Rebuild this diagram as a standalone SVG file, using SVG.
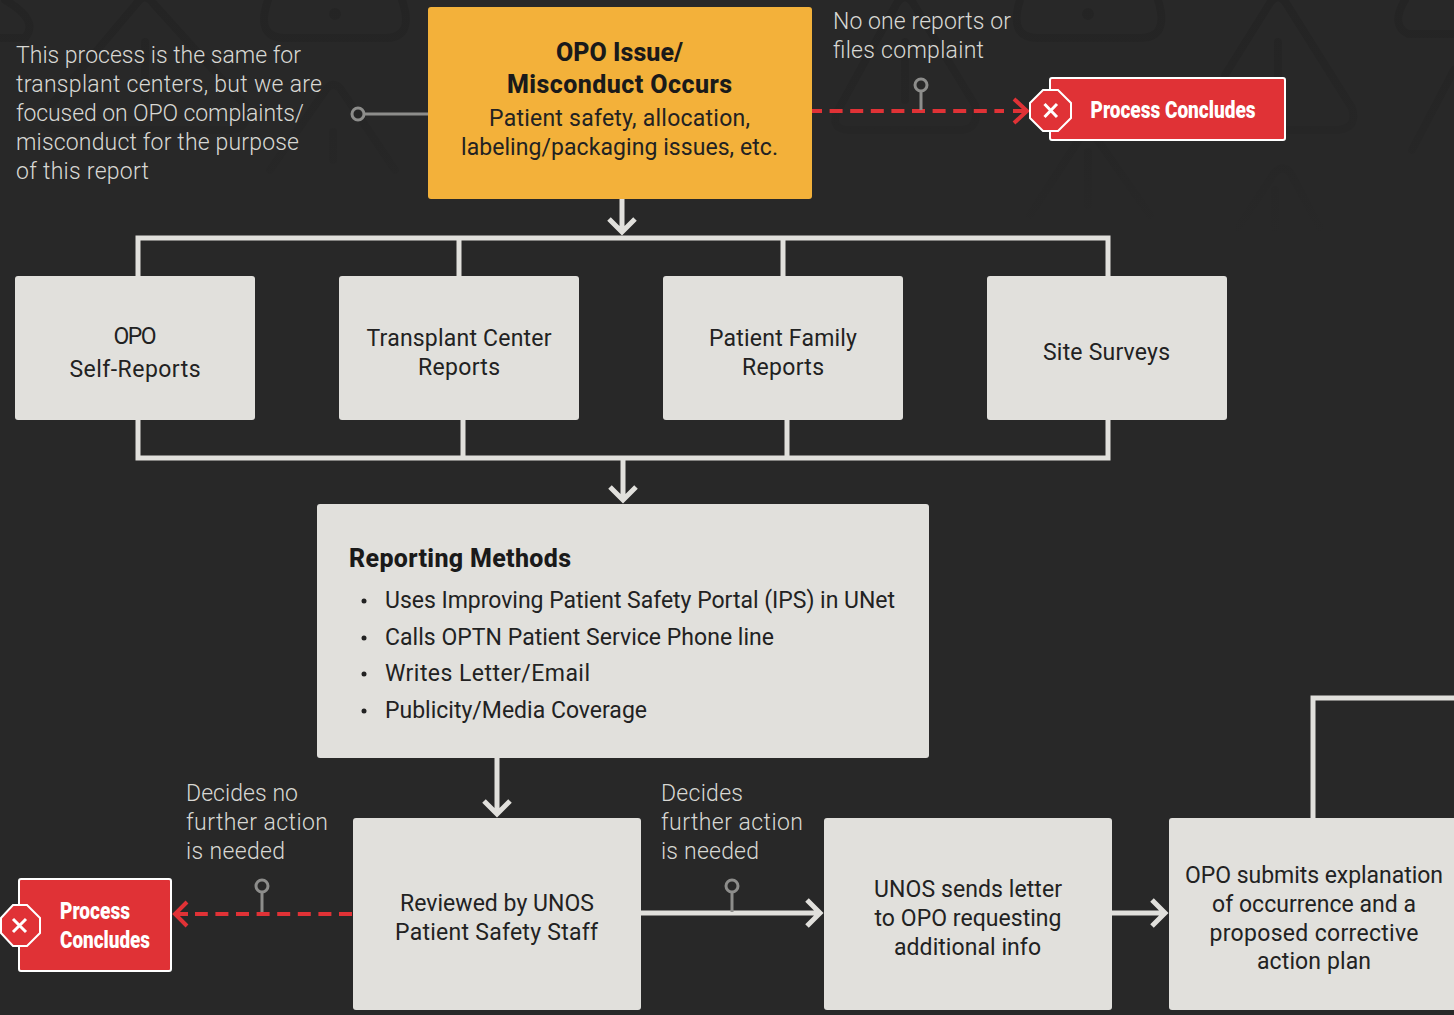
<svg xmlns="http://www.w3.org/2000/svg" width="1454" height="1015" viewBox="0 0 1454 1015">
<defs>
<linearGradient id="fade" gradientUnits="userSpaceOnUse" x1="0" y1="0" x2="0" y2="240"><stop offset="0" stop-color="#242424"/><stop offset=".55" stop-color="#262626"/><stop offset="1" stop-color="#282828"/></linearGradient>
<style>
text{font-family:"Roboto","Liberation Sans",sans-serif}
.note{font-size:23px;font-weight:300;fill:#d8d8d4}
.box{fill:#e1e0dc}
.lbl{font-size:23px;fill:#222;text-anchor:middle}
.ttl{font-size:25px;font-weight:800;fill:#1a1a1a}
.li{font-size:23px;fill:#222}
.wire{fill:none;stroke:#e1e0dc;stroke-width:5}
.dash{fill:none;stroke:#e03236;stroke-width:4;stroke-dasharray:13 7.6}
.red{fill:none;stroke:#e03236;stroke-width:4}
.pin{fill:none;stroke:#8d8d8b;stroke-width:3}
.rb{fill:#e03236;stroke:#fff;stroke-width:2}
.rt{font-size:23px;font-weight:900;fill:#fff;text-anchor:middle}
.wm{fill:none;stroke:url(#fade);stroke-width:8;stroke-linejoin:round;stroke-linecap:round}
</style>
</defs>
<rect width="1454" height="1015" fill="#282828"/>
<g id="watermark" class="wm">
<path d="M1225 75L1270 3Q1278 -8 1286 3L1352 108Q1358 128 1338 130H1170"/>
<path d="M1278 42V100"/>
<path d="M837 112L897 3Q905 -8 913 3L975 105Q980 130 960 130H850Q830 130 837 112Z"/>
<path d="M905 42V100"/>
<path d="M45 112L137 3Q145 -8 153 3L245 105Q250 130 230 130H60Q40 130 45 112Z"/>
<path d="M145 42V100"/>
<path d="M268 0Q255 38 285 38H385Q415 38 402 0"/>
<path d="M1020 0Q1008 38 1038 38H1140Q1170 38 1158 0"/>
<circle cx="335" cy="14" r="3" stroke-width="6"/>
<circle cx="1088" cy="14" r="3" stroke-width="6"/>
<path d="M5 0Q40 20 25 38H0"/>
<path d="M1405 0Q1390 25 1408 34H1454"/>
<path d="M1454 70L1412 150"/>
<path d="M1030 215L1082 135Q1088 128 1094 135L1150 215"/>
<path d="M1088 152V205"/>
<path d="M1238 228L1275 172Q1283 165 1290 172L1320 228"/>
<path d="M1275 190V228"/>
<path d="M270 170L327 88Q333 82 340 88L395 170"/>
<path d="M333 132V160"/>
</g>
<g id="connectors">
<path class="wire" d="M138 276V238H1108V276M459 238V276M783 238V276"/>
<path class="wire" d="M138 420V458H1108V420M463 420V458M787 420V458"/>
<path class="wire" d="M622 199V233M609 219L622 232L635 219"/>
<path class="wire" d="M623 460V501M610 487L623 500L636 487"/>
<path class="wire" d="M497 758V815M484 801L497 814L510 801"/>
<path class="wire" d="M641 913H820M807 900L820 913L807 926"/>
<path class="wire" d="M1112 913H1165M1152 900L1165 913L1152 926"/>
<path class="wire" d="M1313 818V698H1454"/>
<path class="dash" stroke-dashoffset="3" d="M812 111H1004"/>
<path class="red" d="M1014 99L1027 111L1014 123M1013 111H1027"/>
<path class="dash" d="M352 914H195"/>
<path class="red" d="M187 902L175 914L187 926M175 914H188"/>
<g id="pins">
<circle class="pin" cx="358" cy="114" r="6"/><path class="pin" d="M364 114H428"/>
<circle class="pin" cx="921" cy="85" r="6"/><path class="pin" d="M921 91V110"/>
<circle class="pin" cx="262" cy="886" r="6"/><path class="pin" d="M262 892V912"/>
<circle class="pin" cx="732" cy="886" r="6"/><path class="pin" d="M732 892V912"/>
</g>
</g>
<g id="opo-issue">
<rect x="428" y="7" width="384" height="192" rx="3" fill="#f3b13a"/>
<text class="ttl" x="619.500" y="61" text-anchor="middle" textLength="127">OPO Issue/</text>
<text class="ttl" x="619.500" y="93" text-anchor="middle" textLength="225">Misconduct Occurs</text>
<text x="619.500" y="126" class="lbl" textLength="261">Patient safety, allocation,</text>
<text x="619.500" y="155" class="lbl" textLength="317">labeling/packaging issues, etc.</text>
</g>
<g id="note-same"><text class="note" x="16" y="63" textLength="285">This process is the same for</text><text class="note" x="16" y="92" textLength="306">transplant centers, but we are</text><text class="note" x="16" y="121" textLength="288">focused on OPO complaints/</text><text class="note" x="16" y="150" textLength="283">misconduct for the purpose</text><text class="note" x="16" y="179" textLength="133">of this report</text></g>
<g id="note-noone"><text class="note" x="833" y="29" textLength="178">No one reports or</text><text class="note" x="833" y="58" textLength="151">files complaint</text></g>
<g id="concludes-top">
<rect class="rb" x="1050" y="78" width="235" height="62" rx="2"/>
<path d="M1043 90H1058L1071 103V118L1058 131H1043L1030 118V103Z" fill="#e03236" stroke="#fff" stroke-width="2"/>
<path d="M1044.500 104L1057 117M1057 104L1044.500 117" stroke="#fff" stroke-width="3" fill="none"/>
<text class="rt" x="1173" y="118" textLength="165" lengthAdjust="spacingAndGlyphs">Process Concludes</text>
</g>
<g id="self-reports"><rect class="box" x="15" y="276" width="240" height="144" rx="3"/><text class="lbl" x="135" y="344" textLength="43">OPO</text><text class="lbl" x="135" y="377" textLength="131">Self-Reports</text></g>
<g id="tc-reports"><rect class="box" x="339" y="276" width="240" height="144" rx="3"/><text class="lbl" x="459" y="346" textLength="185">Transplant Center</text><text class="lbl" x="459" y="375" textLength="82">Reports</text></g>
<g id="family-reports"><rect class="box" x="663" y="276" width="240" height="144" rx="3"/><text class="lbl" x="783" y="346" textLength="148">Patient Family</text><text class="lbl" x="783" y="375" textLength="82">Reports</text></g>
<g id="site-surveys"><rect class="box" x="987" y="276" width="240" height="144" rx="3"/><text class="lbl" x="1106.500" y="360" textLength="127">Site Surveys</text></g>
<g id="reporting-methods">
<rect class="box" x="317" y="504" width="612" height="254" rx="3"/>
<text class="ttl" x="349" y="567" textLength="222">Reporting Methods</text>
<circle cx="364" cy="601" r="2.500" fill="#222"/><text class="li" x="385" y="608" textLength="510">Uses Improving Patient Safety Portal (IPS) in UNet</text>
<circle cx="364" cy="638" r="2.500" fill="#222"/><text class="li" x="385" y="645" textLength="389">Calls OPTN Patient Service Phone line</text>
<circle cx="364" cy="674" r="2.500" fill="#222"/><text class="li" x="385" y="681" textLength="205">Writes Letter/Email</text>
<circle cx="364" cy="711" r="2.500" fill="#222"/><text class="li" x="385" y="718" textLength="262">Publicity/Media Coverage</text>
</g>
<g id="note-decides-no"><text class="note" x="186" y="801" textLength="112">Decides no</text><text class="note" x="186" y="830" textLength="142">further action</text><text class="note" x="186" y="859" textLength="99">is needed</text></g>
<g id="note-decides"><text class="note" x="661" y="801" textLength="82">Decides</text><text class="note" x="661" y="830" textLength="142">further action</text><text class="note" x="661" y="859" textLength="98">is needed</text></g>
<g id="concludes-bottom">
<rect class="rb" x="19" y="879" width="152" height="92" rx="2"/>
<path d="M13 905H27L40 918V933L27 946H13L1 933V918Z" fill="#e03236" stroke="#fff" stroke-width="2"/>
<path d="M13 919L26 932M26 919L13 932" stroke="#fff" stroke-width="3" fill="none"/>
<text class="rt" x="95" y="919" textLength="70" lengthAdjust="spacingAndGlyphs">Process</text>
<text class="rt" x="105" y="948" textLength="90" lengthAdjust="spacingAndGlyphs">Concludes</text>
</g>
<g id="reviewed"><rect class="box" x="353" y="818" width="288" height="192" rx="3"/><text class="lbl" x="497" y="911" textLength="194">Reviewed by UNOS</text><text class="lbl" x="496.500" y="940" textLength="203">Patient Safety Staff</text></g>
<g id="unos-letter"><rect class="box" x="824" y="818" width="288" height="192" rx="3"/><text class="lbl" x="968" y="897" textLength="188">UNOS sends letter</text><text class="lbl" x="968" y="926" textLength="187">to OPO requesting</text><text class="lbl" x="967.500" y="955" textLength="147">additional info</text></g>
<g id="opo-explains"><rect class="box" x="1169" y="818" width="290" height="192" rx="3"/><text class="lbl" x="1314" y="883" textLength="258">OPO submits explanation</text><text class="lbl" x="1314" y="912" textLength="204">of occurrence and a</text><text class="lbl" x="1314" y="941" textLength="209">proposed corrective</text><text class="lbl" x="1314" y="969" textLength="114">action plan</text></g>
</svg>
